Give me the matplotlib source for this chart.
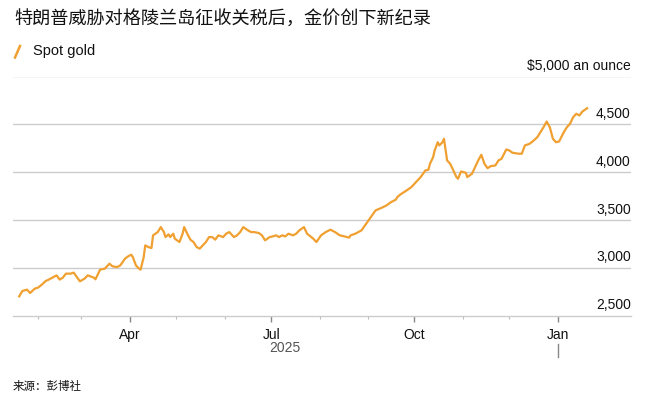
import matplotlib
matplotlib.use("Agg")
import matplotlib.pyplot as plt
import matplotlib.dates as mdates
import matplotlib.transforms as mtransforms
from matplotlib.lines import Line2D
import pandas as pd

# ---- data ----
dates = [
    "2025-01-20", "2025-01-22", "2025-01-25", "2025-01-27", "2025-01-30", "2025-02-01",
    "2025-02-03", "2025-02-06", "2025-02-08", "2025-02-11", "2025-02-13", "2025-02-15",
    "2025-02-17", "2025-02-19", "2025-02-22", "2025-02-24", "2025-02-26", "2025-02-28",
    "2025-03-03", "2025-03-05", "2025-03-09", "2025-03-10", "2025-03-13", "2025-03-16",
    "2025-03-19", "2025-03-21", "2025-03-24", "2025-03-26", "2025-03-29", "2025-03-31",
    "2025-04-02", "2025-04-03", "2025-04-05", "2025-04-07", "2025-04-08", "2025-04-10",
    "2025-04-11", "2025-04-13", "2025-04-15", "2025-04-16", "2025-04-19", "2025-04-21",
    "2025-04-23", "2025-04-24", "2025-04-26", "2025-04-27", "2025-04-29", "2025-04-30",
    "2025-05-03", "2025-05-05", "2025-05-06", "2025-05-08", "2025-05-10", "2025-05-12",
    "2025-05-14", "2025-05-16", "2025-05-18", "2025-05-20", "2025-05-22", "2025-05-24",
    "2025-05-26", "2025-05-28", "2025-05-31", "2025-06-02", "2025-06-04", "2025-06-07",
    "2025-06-09", "2025-06-11", "2025-06-13", "2025-06-16", "2025-06-18", "2025-06-20",
    "2025-06-23", "2025-06-25", "2025-06-27", "2025-06-30", "2025-07-02", "2025-07-04",
    "2025-07-06", "2025-07-08", "2025-07-10", "2025-07-12", "2025-07-15", "2025-07-17",
    "2025-07-19", "2025-07-22", "2025-07-24", "2025-07-28", "2025-07-30", "2025-08-02",
    "2025-08-05", "2025-08-08", "2025-08-11", "2025-08-14", "2025-08-17", "2025-08-20",
    "2025-08-21", "2025-08-24", "2025-08-28", "2025-08-31", "2025-09-03", "2025-09-06",
    "2025-09-10", "2025-09-13", "2025-09-16", "2025-09-19", "2025-09-20", "2025-09-22",
    "2025-09-26", "2025-09-29", "2025-10-02", "2025-10-05", "2025-10-08", "2025-10-10",
    "2025-10-11", "2025-10-13", "2025-10-14", "2025-10-16", "2025-10-17", "2025-10-19",
    "2025-10-20", "2025-10-22", "2025-10-24", "2025-10-26", "2025-10-28", "2025-10-29",
    "2025-10-31", "2025-11-03", "2025-11-04", "2025-11-07", "2025-11-09", "2025-11-11",
    "2025-11-13", "2025-11-15", "2025-11-17", "2025-11-19", "2025-11-22", "2025-11-24",
    "2025-11-26", "2025-11-29", "2025-12-01", "2025-12-03", "2025-12-07", "2025-12-09",
    "2025-12-11", "2025-12-14", "2025-12-16", "2025-12-19", "2025-12-23", "2025-12-25",
    "2025-12-27", "2025-12-29", "2025-12-31", "2026-01-02", "2026-01-05", "2026-01-07",
    "2026-01-09", "2026-01-11", "2026-01-13", "2026-01-15", "2026-01-17", "2026-01-20",
]
spot_gold = [
    2705, 2761, 2775, 2740, 2786, 2796,
    2820, 2865, 2880, 2907, 2924, 2880,
    2900, 2942, 2942, 2953, 2907, 2862,
    2890, 2924, 2900, 2883, 2984, 2994,
    3046, 3018, 3011, 3029, 3099, 3123,
    3140, 3115, 3029, 2994, 2984, 3115,
    3237, 3220, 3209, 3342, 3376, 3428,
    3376, 3324, 3352, 3324, 3359, 3307,
    3272, 3359, 3428, 3359, 3297, 3272,
    3220, 3203, 3237, 3272, 3324, 3324,
    3297, 3342, 3324, 3359, 3376, 3324,
    3342, 3376, 3428, 3394, 3376, 3376,
    3366, 3342, 3290, 3324, 3331, 3342,
    3324, 3342, 3331, 3359, 3342, 3359,
    3394, 3428, 3359, 3307, 3272, 3342,
    3376, 3401, 3376, 3342, 3331, 3318,
    3342, 3359, 3394, 3464, 3532, 3602,
    3630, 3654, 3689, 3714, 3741, 3769,
    3811, 3845, 3897, 3950, 4019, 4027,
    4089, 4158, 4228, 4314, 4280, 4314,
    4350, 4124, 4089, 4019, 3950, 3933,
    4009, 3995, 3950, 3985, 4054, 4124,
    4183, 4089, 4043, 4064, 4071, 4124,
    4141, 4238, 4228, 4204, 4194, 4194,
    4280, 4298, 4322, 4367, 4471, 4530,
    4471, 4350, 4314, 4322, 4419, 4471,
    4506, 4575, 4611, 4593, 4635, 4669,
]
y_ticks = [2500, 3000, 3500, 4000, 4500]
y_tick_labels = ["2,500", "3,000", "3,500", "4,000", "4,500"]
y_top = 5000
y_top_label = "$5,000 an ounce"
x_major = ["2025-04-01", "2025-07-01", "2025-10-01", "2026-01-01"]
x_major_labels = ["Apr", "Jul", "Oct", "Jan"]
x_minor = ["2025-02-01", "2025-03-01", "2025-05-01", "2025-06-01",
           "2025-08-01", "2025-09-01", "2025-11-01", "2025-12-01"]
year_label = "2025"
title = "特朗普威胁对格陵兰岛征收关税后，金价创下新纪录"
series_name = "Spot gold"
source = "来源：彭博社"

# ---- styling ----
W, H, DPI = 647, 399, 100
GOLD = "#F0A030"
GRID = "#CCCCCC"
LATIN = ["Liberation Sans", "DejaVu Sans"]
CJK = ["Noto Sans CJK SC", "DejaVu Sans"]
plt.rcParams["font.family"] = LATIN

fig = plt.figure(figsize=(W / DPI, H / DPI), dpi=DPI)
fig.patch.set_facecolor("white")

def fx(px):
    return px / W

def fy(py):
    return 1 - py / H

left, right, top, bottom = 13, 630.7, 76.5, 316
ax = fig.add_axes([fx(left), fy(bottom), fx(right - left), fy(top) - fy(bottom)])
ax.set_facecolor("none")

x = pd.to_datetime(dates)
ax.plot(x, spot_gold, color=GOLD, lw=1.6, solid_joinstyle="round", zorder=3)

ax.set_xlim(pd.Timestamp("2025-01-16"), pd.Timestamp("2026-02-17"))
ax.set_ylim(2500, 5000)

for s in ["top", "left", "right"]:
    ax.spines[s].set_visible(False)
ax.spines["bottom"].set_color(GRID)
ax.spines["bottom"].set_linewidth(1.0)

for v in y_ticks[1:] + [y_top]:
    ax.axhline(v, color=GRID, lw=1.0, zorder=1)
ax.set_yticks([])

trans_y = mtransforms.blended_transform_factory(ax.transAxes, ax.transData)
for v, lab in zip(y_ticks + [y_top], y_tick_labels + [y_top_label]):
    ax.annotate(lab, xy=(1.0, v), xycoords=trans_y, xytext=(0, 4.8),
                textcoords="offset points", ha="right", va="baseline",
                fontsize=10, color="#111111")

ax.set_xticks(pd.to_datetime(x_major))
ax.set_xticklabels(x_major_labels)
ax.set_xticks(pd.to_datetime(x_minor), minor=True)
ax.tick_params(axis="x", which="major", length=4.5, width=1.0, color="#888888",
               labelsize=10, pad=4, labelcolor="#111111")
ax.tick_params(axis="x", which="minor", length=2.5, width=0.8, color="#BBBBBB")

# year separator below Jan
jan = mdates.date2num(pd.Timestamp(x_major[-1]))
trans_xf = mtransforms.blended_transform_factory(ax.transData, fig.transFigure)
ax.add_line(Line2D([jan, jan], [fy(344), fy(357)], transform=trans_xf,
                   color="#888888", lw=1.0, clip_on=False))

# year label centred on 2025 span
x0 = mdates.date2num(pd.Timestamp("2025-01-16"))
ax.text((x0 + jan) / 2, fy(348), year_label, transform=trans_xf,
        ha="center", va="center", fontsize=10, color="#555555")

# title, legend, source
fig.text(fx(14), fy(19), title, family=CJK, fontsize=13.1, color="#111111",
         ha="left", va="center")
fig.add_artist(Line2D([fx(15), fx(20)], [fy(57.5), fy(46)], color=GOLD, lw=1.8,
                      transform=fig.transFigure))
fig.text(fx(33), fy(50.5), series_name, fontsize=10.5, color="#111111",
         ha="left", va="center")
fig.text(fx(13), fy(386.5), source, family=CJK, fontsize=8.3, color="#111111",
         ha="left", va="center")

fig.savefig("out.png", dpi=DPI, facecolor="white")
